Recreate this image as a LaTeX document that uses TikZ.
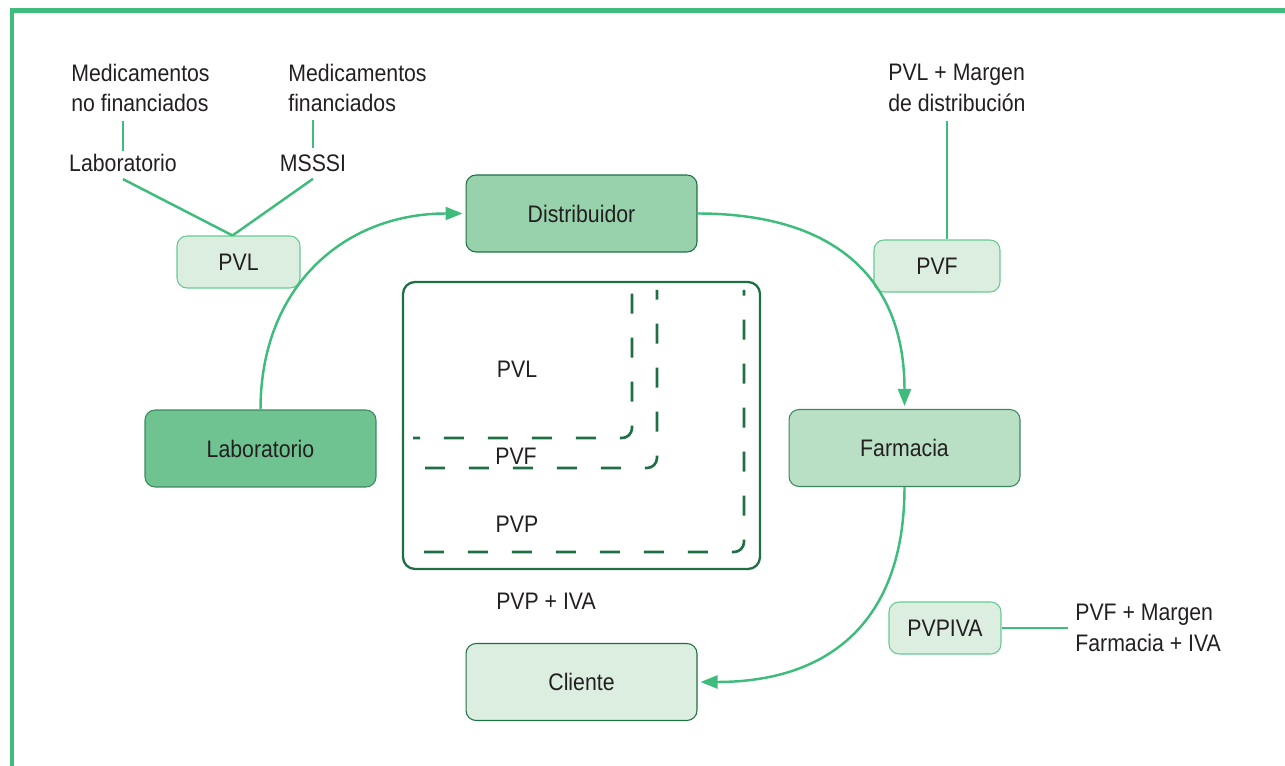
\documentclass[tikz,border=0pt]{standalone}
\usepackage{fontspec}
\setmainfont[FakeStretch=0.89]{Liberation Sans}
\usepackage{tikz}
\usetikzlibrary{positioning}
\usetikzlibrary{arrows.meta}
\usetikzlibrary{calc}

\definecolor{ink}{HTML}{231F20}
\definecolor{leaf}{HTML}{3DBC7C}
\definecolor{pine}{HTML}{1F6F45}
\definecolor{edge}{HTML}{3B8A5F}
\definecolor{soft}{HTML}{66C994}
\definecolor{fillA}{HTML}{6FC391}
\definecolor{fillB}{HTML}{98D2AC}
\definecolor{fillC}{HTML}{B9DFC5}
\definecolor{fillD}{HTML}{DCEEE0}

\tikzstyle{plain}=[text=ink, inner sep=0pt, align=left, font=\fontsize{13.6}{17.6}\selectfont]
\tikzstyle{stage}=[plain, align=center, draw=edge, line width=0.6pt, rounded corners=0.2cm, minimum width=4.62cm, minimum height=1.54cm]
\tikzstyle{price}=[plain, align=center, draw=soft, fill=fillD, line width=0.6pt, rounded corners=0.2cm, minimum height=1.04cm]
\tikzstyle{link}=[leaf, line width=1.4pt]
\tikzstyle{flow}=[link, -{Triangle[length=0.34cm, width=0.26cm]}, shorten >=0.06cm]
\tikzstyle{outline}=[pine, line width=1.3pt, rounded corners=0.24cm]
\tikzstyle{share}=[pine, line width=1.5pt, rounded corners=0.2cm, dash pattern=on 0.4cm off 0.48cm]

\begin{document}
\begin{tikzpicture}[x=0.02cm, y=-0.02cm]
    \useasboundingbox (0,0) rectangle (1285,766);
    \draw [leaf, line width=2.3pt] (12,766) -- (12,10.5) -- (1285,10.5);

    \node [plain, anchor=west] at (71,  88) (MedNo)   {Medicamentos\\no financiados};
    \node [plain, anchor=west] at (288, 88) (MedSi)   {Medicamentos\\financiados};
    \node [plain, anchor=west] at (888, 88) (MargDis) {PVL + Margen\\de distribución};
    \node [plain] at (123, 163) (LabTxt) {Laboratorio};
    \node [plain] at (313, 163) (Msssi)  {MSSSI};

    \node [price, minimum width=2.46cm] at (238.5, 262) (PVL)    {PVL};
    \node [price, minimum width=2.52cm] at (937,   266) (PVF)    {PVF};
    \node [price, minimum width=2.24cm] at (945,   628) (PVPIVA) {PVPIVA};
    \node [plain, anchor=west] at (1075, 628) (MargFar) {PVF + Margen\\Farmacia + IVA};

    \node [stage, fill=fillA] at (260.5, 448.5) (Laboratorio)  {Laboratorio};
    \node [stage, fill=fillB, draw=pine] at (581.5, 213.5) (Distribuidor) {Distribuidor};
    \node [stage, fill=fillC] at (904.5, 448)   (Farmacia)     {Farmacia};
    \node [stage, fill=fillD, draw=pine] at (581.5, 682)   (Cliente)      {Cliente};

    % price shares (only bottom and right edges show)
    \draw [share, dash phase=0.26cm] (413,438) -- (632,438) -- (632,290);
    \draw [share, dash phase=0.64cm] (413,468) -- (657,468) -- (657,290);
    \draw [share, dash phase=0.66cm] (413,552) -- (744,552) -- (744,290);
    \draw [outline] (403,282) rectangle (760,569);
    \node [plain] at (517, 369) (ShareL) {PVL};
    \node [plain] at (516, 456) (ShareF) {PVF};
    \node [plain] at (517, 524) (ShareP) {PVP};
    \node [plain] at (546, 601) (ShareI) {PVP + IVA};

    \draw [link] (LabTxt.north) ++(0,-3) -- ($(MedNo.south -| LabTxt.north)+(0,8)$);
    \draw [link] (Msssi.north) ++(0,-6) -- ($(MedSi.south -| Msssi.north)+(0,7)$);
    \draw [link] ([yshift=-0.14cm]LabTxt.south) -- ([xshift=-0.12cm]PVL.north);
    \draw [link] ([yshift=-0.14cm]Msssi.south)  -- ([xshift=-0.12cm]PVL.north);
    \draw [link] ([xshift=0.2cm]PVF.north) -- ++(0,-118);
    \draw [link] (PVPIVA.east) -- ([xshift=-0.14cm]MargFar.west);

    \draw [flow] (Laboratorio.north) to [out=90, in=180, looseness=1.1] (Distribuidor.west);
    \draw [flow] (Distribuidor.east) to [out=0, in=90, looseness=1.2]   (Farmacia.north);  % start angle, end angle
    \draw [flow] (Farmacia.south)    to [out=-90, in=0, looseness=1.2]  (Cliente.east);
\end{tikzpicture}
\end{document}
